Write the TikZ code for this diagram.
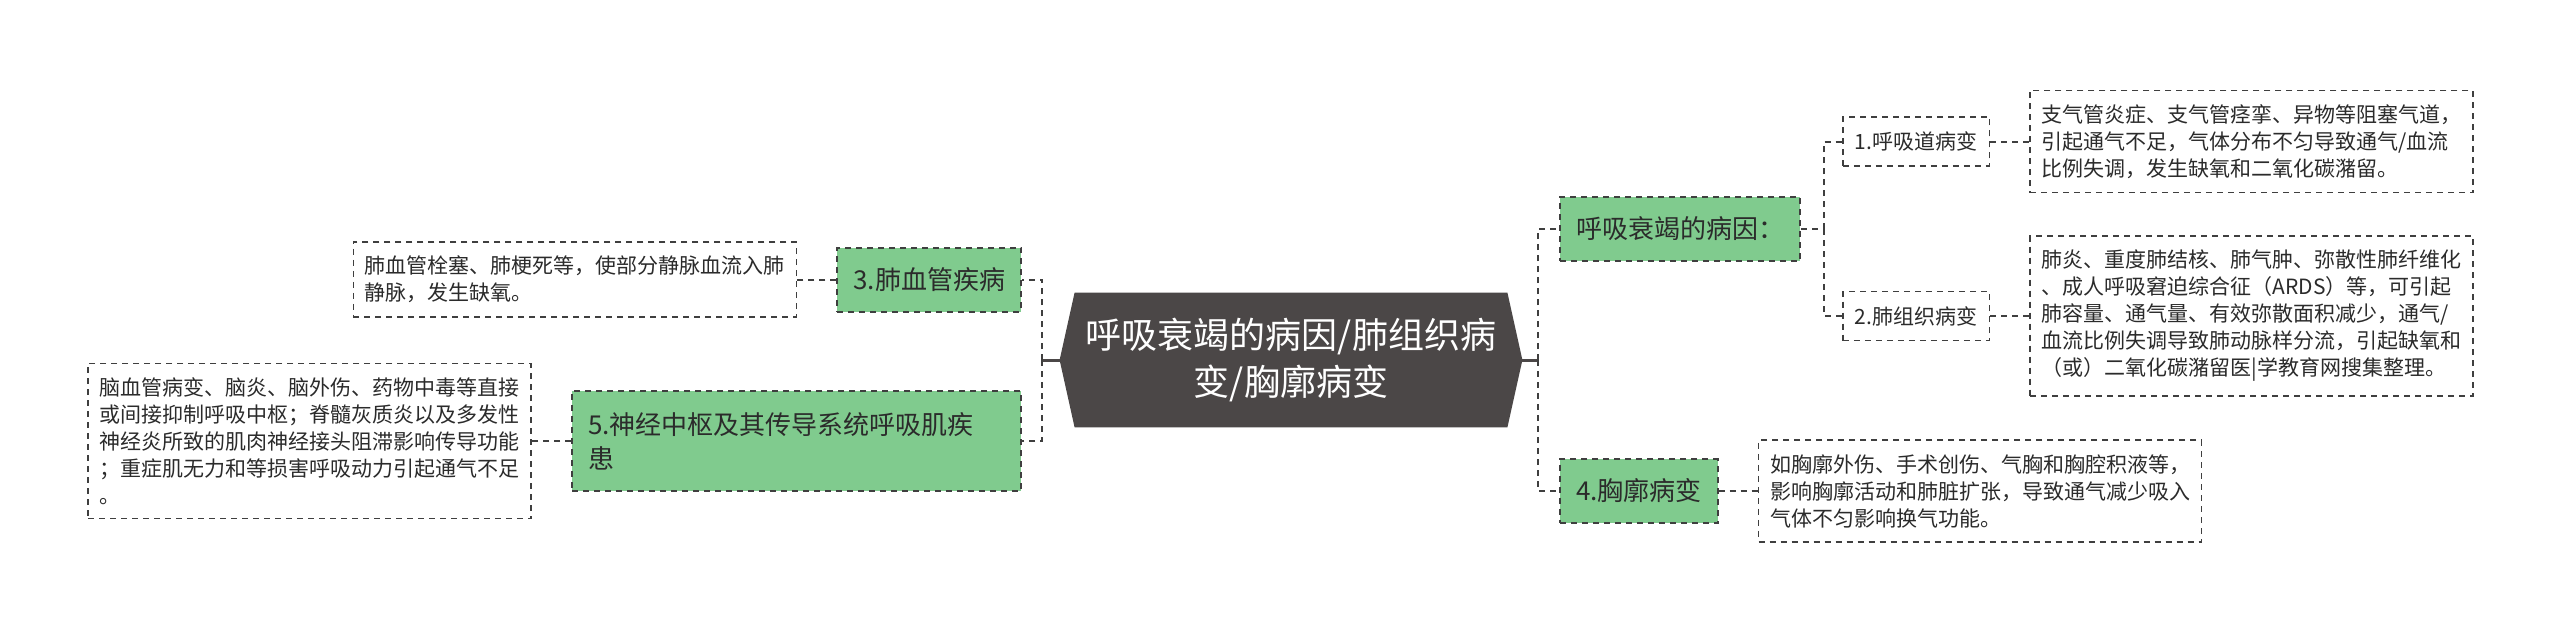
\documentclass[tikz,border=0pt]{standalone}
\usepackage{fontspec}
\setmainfont{Noto Sans CJK SC}
\usetikzlibrary{positioning,backgrounds}
\definecolor{rootfill}{HTML}{4B4747}
\definecolor{topicfill}{HTML}{80CB8E}
\definecolor{linegray}{HTML}{3F3F3F}
\definecolor{textgray}{HTML}{2B2B2B}

\begin{document}
\begin{tikzpicture}[
x=0.5pt, y=-0.5pt,
node distance=19.5pt,
rootbox/.style={align=center, text=white, minimum width=216pt, minimum height=67pt, inner sep=0pt, font=\fontsize{18}{23.5}\selectfont},
topic/.style={draw=linegray, fill=topicfill, line width=1pt, dash pattern=on 3pt off 2.5pt, text=textgray, align=left, inner xsep=8pt, minimum height=32pt, font=\fontsize{13}{17}\selectfont},
sub/.style={draw=linegray, line width=0.9pt, dash pattern=on 3pt off 2.5pt, text=textgray, inner xsep=6pt, minimum height=24.5pt, font=\fontsize{10.5}{13.5}\selectfont},
note/.style={draw=linegray, line width=0.9pt, dash pattern=on 3pt off 2.5pt, text=textgray, align=left, inner xsep=5.75pt, inner ysep=7pt, font=\fontsize{10.5}{13.5}\selectfont},
link/.style={draw=linegray, line width=1pt, dash pattern=on 3pt off 2.5pt},
stem/.style={draw=rootfill, line width=1.5pt}
]
\begin{scope}[on background layer]
\fill[white] (0,0) rectangle (2560,633);
\end{scope}
\useasboundingbox (0,0) rectangle (2560,633);

\node[rootbox] (root) at (1291,360) {呼吸衰竭的病因/肺组织病\\变/胸廓病变};
\begin{scope}[on background layer]
\fill[rootfill] ([xshift=-7.5pt]root.west) -- (root.north west) -- (root.north east)
  -- ([xshift=7.5pt]root.east) -- (root.south east) -- (root.south west) -- cycle;
\end{scope}
\coordinate (rootL) at ([xshift=-7.5pt]root.west);
\coordinate (rootR) at ([xshift=7.5pt]root.east);
\coordinate (lj) at (1042,360);
\coordinate (rj) at (1538,360);

\node[topic, anchor=west] (c1) at (1559,229) {呼吸衰竭的病因：};
\node[topic, anchor=west] (c4) at (1559,491) {4.胸廓病变};
\node[topic, anchor=east] (c3) at (1022,279.5) {3.肺血管疾病};
\node[topic, anchor=east, text width=208.5pt, minimum height=50pt] (c5) at (1022,441) {5.神经中枢及其传导系统呼吸肌疾\\患};

\coordinate (cj) at (1824,229);
\node[sub, anchor=west] (s1) at (1842,141.5) {1.呼吸道病变};
\node[sub, anchor=west] (s2) at (1842,316) {2.肺组织病变};

\node[note, right=of s1] (n1) {支气管炎症、支气管痉挛、异物等阻塞气道，\\引起通气不足，气体分布不匀导致通气/血流\\比例失调，发生缺氧和二氧化碳潴留。};
\node[note, right=of s2] (n2) {肺炎、重度肺结核、肺气肿、弥散性肺纤维化\\、成人呼吸窘迫综合征（ARDS）等，可引起\\肺容量、通气量、有效弥散面积减少，通气/\\血流比例失调导致肺动脉样分流，引起缺氧和\\（或）二氧化碳潴留医|学教育网搜集整理。};
\node[note, right=of c4] (n4) {如胸廓外伤、手术创伤、气胸和胸腔积液等，\\影响胸廓活动和肺脏扩张，导致通气减少吸入\\气体不匀影响换气功能。};
\node[note, left=of c3] (n3) {肺血管栓塞、肺梗死等，使部分静脉血流入肺\\静脉，发生缺氧。};
\node[note, left=of c5] (n5) {脑血管病变、脑炎、脑外伤、药物中毒等直接\\或间接抑制呼吸中枢；脊髓灰质炎以及多发性\\神经炎所致的肌肉神经接头阻滞影响传导功能\\；重症肌无力和等损害呼吸动力引起通气不足\\。};

\draw[stem] (rootL) -- (lj);
\draw[stem] (rootR) -- (rj);
\draw[link] (rj) |- (c1.west);
\draw[link] (rj) |- (c4.west);
\draw[link] (lj) |- (c3.east);
\draw[link] (lj) |- (c5.east);
\draw[link] (c1) -- (cj);
\draw[link] (cj) |- (s1.west);
\draw[link] (cj) |- (s2.west);
\draw[link] (s1) -- (n1);
\draw[link] (s2) -- (n2);
\draw[link] (c4) -- (n4);
\draw[link] (c3) -- (n3);
\draw[link] (c5) -- (n5);
\end{tikzpicture}
\end{document}
